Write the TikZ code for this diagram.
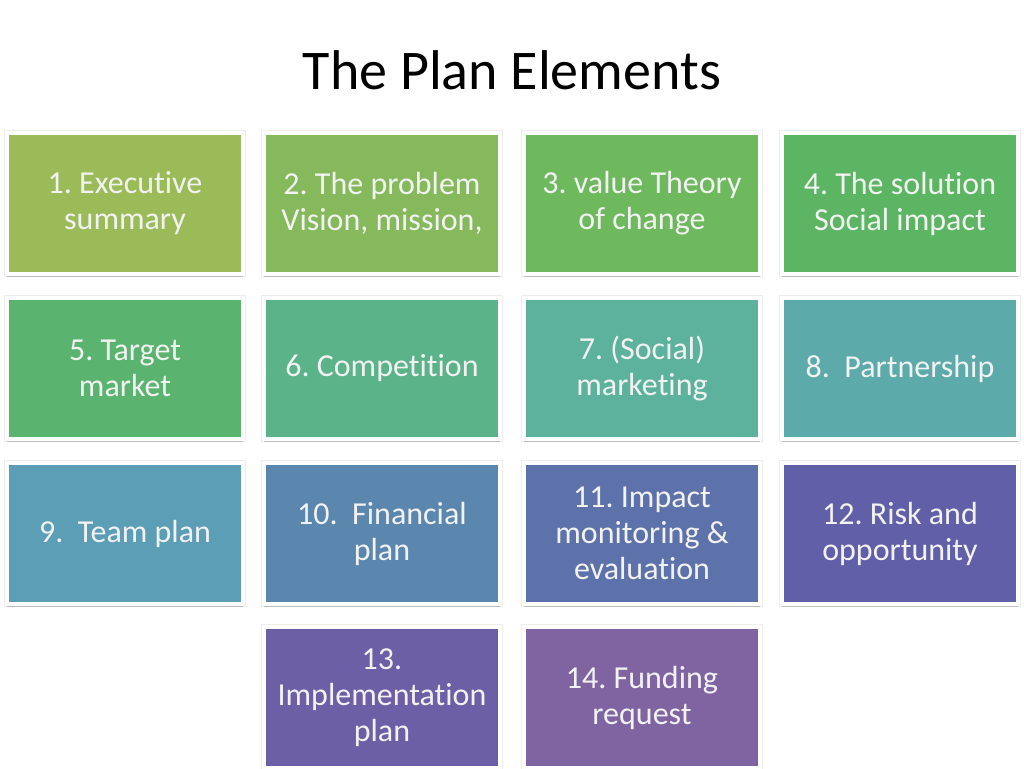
\documentclass[tikz,border=0pt]{standalone}
\usepackage{fontspec}
\setmainfont{Carlito}[RawFeature=-liga]
\usetikzlibrary{shadows}
\definecolor{c1}{HTML}{9BBB59}
\definecolor{c2}{HTML}{85B95B}
\definecolor{c3}{HTML}{6EB85E}
\definecolor{c4}{HTML}{5CB562}
\definecolor{c5}{HTML}{5AB46F}
\definecolor{c6}{HTML}{5BB389}
\definecolor{c7}{HTML}{5CB29C}
\definecolor{c8}{HTML}{5CAAA9}
\definecolor{c9}{HTML}{5B9EB5}
\definecolor{c10}{HTML}{5B87AE}
\definecolor{c11}{HTML}{5D71AA}
\definecolor{c12}{HTML}{605FA8}
\definecolor{c13}{HTML}{6C5FA5}
\definecolor{c14}{HTML}{8064A2}
\tikzset{
  box/.style={draw=white, line width=4pt, minimum width=236pt, minimum height=141pt,
    inner sep=0pt, align=center, text=white!95!black, font=\fontsize{32}{36}\selectfont,
    preaction={draw=black!7, line width=6pt},
    drop shadow={shadow xshift=0pt, shadow yshift=-2.5pt, opacity=0.2, fill=black}},
  title/.style={font=\fontsize{56}{64}\selectfont, text=black, inner sep=0pt}
}
\begin{document}
\frenchspacing
\begin{tikzpicture}[x=1pt,y=-1pt]
\useasboundingbox[fill=white] (0,0) rectangle (1024,768);
\node[title] (t) at (512,70) {The Plan Elements};
\node[box, fill=c1]  (b1)  at (125,203.5) {1. Executive\\summary};
\node[box, fill=c2]  (b2)  at (382,203.5) {2. The problem\\Vision, mission,};
\node[box, fill=c3]  (b3)  at (642,203.5) {3. value Theory\\of change};
\node[box, fill=c4]  (b4)  at (900,203.5) {4. The solution\\Social impact};
\node[box, fill=c5]  (b5)  at (125,368.5) {5. Target\\market};
\node[box, fill=c6]  (b6)  at (382,368.5) {6. Competition};
\node[box, fill=c7]  (b7)  at (642,368.5) {7. (Social)\\marketing};
\node[box, fill=c8]  (b8)  at (900,368.5) {8.\ \ Partnership};
\node[box, fill=c9]  (b9)  at (125,533.5) {9.\ \ Team plan};
\node[box, fill=c10] (b10) at (382,533.5) {10.\ \ Financial\\plan};
\node[box, fill=c11] (b11) at (642,533.5) {11. Impact\\monitoring \&\\evaluation};
\node[box, fill=c12] (b12) at (900,533.5) {12. Risk and\\opportunity};
\node[box, fill=c13] (b13) at (382,697.5) {13.\\Implementation\\plan};
\node[box, fill=c14] (b14) at (642,697.5) {14. Funding\\request};
\end{tikzpicture}
\end{document}
